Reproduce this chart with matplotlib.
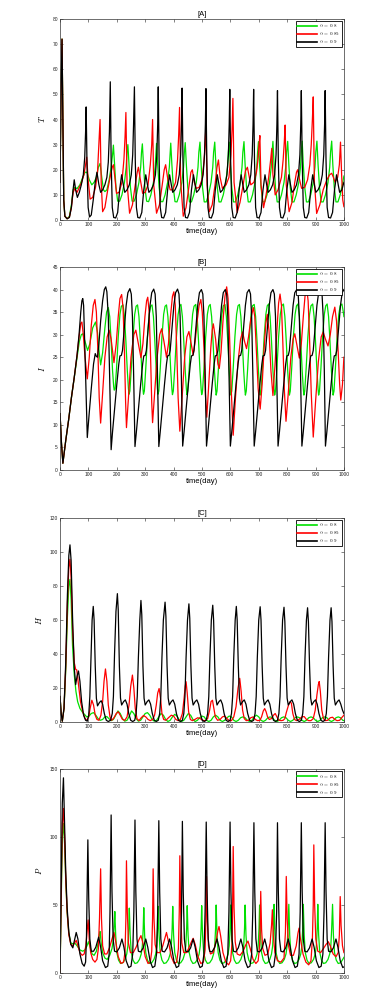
import matplotlib.pyplot as plt

plt.rcParams['font.family'] = ['Liberation Sans', 'DejaVu Sans']
plt.rcParams['mathtext.fontset'] = 'cm'

alphas = ["0.8", "0.85", "0.9"]
colors = ["#00e000", "#ff0000", "#000000"]
xticks = [0, 100, 200, 300, 400, 500, 600, 700, 800, 900, 1000]

# ---------------- [A]  T ----------------
A_green = [
    (0, 15), (4, 55), (7, 72), (10, 40), (13, 8), (17, 1.5), (25, 0.5), (33, 1.5), (40, 6), (46, 12), (52, 13),
    (60, 12.5), (70, 14), (80, 17), (88, 19), (95, 19), (103, 16), (112, 14), (120, 15), (128, 17), (135, 21),
    (141, 22.5), (147, 17), (153, 12), (158, 11.3), (165, 12), (173, 16), (180, 21), (185, 26), (188, 29.8),
    (192, 22), (197, 13), (203, 7.5), (210, 7.5), (218, 10), (227, 15), (233, 21), (236, 27), (239, 30),
    (243, 22), (248, 13), (254, 7.5), (261, 7.5), (269, 10), (278, 15), (284, 21), (287, 27), (290, 30.3),
    (294, 22), (299, 13), (305, 7.5), (312, 7.3), (320, 10), (329, 15), (335, 21), (338, 27), (340, 30.5),
    (344, 22), (349, 13), (355, 7.3), (362, 7.3), (370, 10), (379, 15), (385, 21), (388, 27), (390, 30.6),
    (394, 22), (399, 13), (405, 7.3), (412, 7.2), (420, 10), (429, 15), (435, 21), (438, 27), (441, 30.8),
    (445, 22), (450, 13), (456, 7.2), (463, 7.2), (471, 10), (480, 15), (486, 21), (489, 27), (493, 31),
    (497, 22), (502, 13), (508, 7.2), (515, 7.2), (523, 10), (532, 15), (538, 21), (541, 27), (545, 31),
    (549, 22), (554, 13), (560, 7.2), (567, 7.2), (575, 10), (584, 15), (590, 21), (593, 27), (596, 31),
    (600, 22), (605, 13), (611, 7.2), (618, 7.2), (626, 10), (635, 15), (641, 21), (644, 27), (648, 31.2),
    (652, 22), (657, 13), (663, 7.2), (670, 7.2), (678, 10), (687, 15), (693, 21), (696, 27), (699, 31.2),
    (703, 22), (708, 13), (714, 7.2), (721, 7.2), (729, 10), (738, 15), (744, 21), (747, 27), (750, 31.3),
    (754, 22), (759, 13), (765, 7.2), (772, 7.2), (780, 10), (789, 15), (795, 21), (798, 27), (802, 31.3),
    (806, 22), (811, 13), (817, 7.2), (824, 7.2), (832, 10), (841, 15), (847, 21), (850, 27), (853, 31.4),
    (857, 22), (862, 13), (868, 7.2), (875, 7.2), (883, 10), (892, 15), (898, 21), (901, 27), (905, 31.4),
    (909, 22), (914, 13), (920, 7.2), (927, 7.2), (935, 10), (944, 15), (950, 21), (953, 27), (957, 31.4),
    (961, 22), (966, 13), (972, 7.2), (979, 7.2), (987, 10), (996, 15), (1000, 17.5),
]
A_red = [
    (0, 15), (4, 55), (7, 72), (10, 40), (13, 8), (17, 1.5), (25, 0.5), (33, 1.2), (40, 5), (46, 11), (52, 12.5),
    (60, 11), (68, 13), (76, 15), (84, 18), (90, 22), (94, 25), (99, 16), (106, 8.3), (115, 9), (125, 13),
    (132, 19), (136, 28), (141, 40), (145, 15), (150, 3.3), (158, 5), (168, 12), (178, 18), (184, 21), (188, 22),
    (193, 17), (199, 10.6), (208, 11), (218, 15), (225, 24), (229, 33), (232, 42.8), (236, 15), (245, 2.7),
    (255, 6), (265, 14), (272, 19), (276, 21), (283, 16), (291, 10.6), (300, 11), (310, 14), (318, 22), (323, 30),
    (326, 40), (330, 14), (340, 2.7), (350, 6), (360, 14), (367, 20), (372, 22), (380, 16), (388, 12), (397, 12),
    (407, 15), (414, 24), (418, 34), (421, 44.8), (425, 15), (434, 1.5), (444, 5), (455, 14), (461, 19), (466, 20),
    (473, 15), (480, 12.6), (490, 13), (500, 16), (507, 23), (511, 30), (514, 37.8), (518, 14), (526, 3.3),
    (536, 6), (546, 14), (553, 21), (558, 23.9), (564, 17), (572, 12.6), (585, 14), (595, 17), (602, 26),
    (606, 36), (609, 48.4), (613, 15), (624, 3), (634, 7), (645, 14), (653, 19.5), (660, 21), (667, 17), (672, 14),
    (683, 15), (692, 19), (698, 25), (701, 30), (704, 33.6), (708, 14), (717, 4.9), (726, 10), (735, 17), (741, 23),
    (746, 28.5), (750, 18), (758, 10), (768, 12), (780, 17), (786, 24), (790, 31), (793, 37.8), (797, 14),
    (807, 3.3), (817, 7), (827, 15), (833, 19), (837, 20), (844, 16), (851, 12.6), (862, 13), (872, 16), (880, 22),
    (885, 30), (889, 40), (892, 49), (896, 15), (904, 2.6), (915, 6), (927, 12), (940, 16), (950, 18), (957, 18.6),
    (963, 17), (969, 15), (978, 17), (984, 22), (988, 31), (992, 18), (996, 8), (1000, 5.3),
]
A_black = [
    (0, 15), (4, 55), (7, 72), (10, 40), (13, 8), (17, 1.5), (25, 0.5), (33, 1), (40, 5), (46, 12),
    (50, 16), (55, 12), (61, 9), (68, 11), (75, 14), (82, 18), (87, 25), (90, 35), (92, 45), (95, 22),
    (99, 5), (104, 1.2), (110, 2), (117, 8), (124, 15), (130, 19), (137, 14), (143, 11), (150, 12), (158, 14),
    (165, 17), (170, 23), (174, 35), (177, 55),
    (180, 24), (184, 5), (189, 1), (196, 0.8), (203, 3), (210, 12), (217, 18), (223, 14), (228, 11), (236, 12),
    (244, 14), (251, 18), (256, 26), (259, 38), (262, 53),
    (265, 24), (269, 5), (274, 1), (281, 0.8), (288, 3), (295, 12), (302, 18), (308, 14), (313, 11), (321, 12),
    (329, 14), (336, 18), (341, 26), (344, 38), (346, 53),
    (349, 24), (353, 5), (358, 1), (365, 0.8), (372, 3), (379, 12), (386, 18), (392, 14), (397, 11), (405, 12),
    (413, 14), (420, 18), (425, 26), (428, 38), (430, 52.5),
    (433, 24), (437, 5), (442, 1), (449, 0.8), (456, 3), (463, 12), (470, 18), (476, 14), (481, 11), (489, 12),
    (497, 14), (504, 18), (509, 26), (512, 38), (514, 52.3),
    (517, 24), (521, 5), (526, 1), (533, 0.8), (540, 3), (547, 12), (554, 18), (560, 14), (565, 11), (573, 12),
    (581, 14), (588, 18), (593, 26), (596, 38), (598, 52),
    (601, 24), (605, 5), (610, 1), (617, 0.8), (624, 3), (631, 12), (638, 18), (644, 14), (649, 11), (657, 12),
    (665, 14), (672, 18), (677, 26), (680, 38), (682, 52),
    (685, 24), (689, 5), (694, 1), (701, 0.8), (708, 3), (715, 12), (722, 18), (728, 14), (733, 11), (741, 12),
    (749, 14), (756, 18), (761, 26), (764, 38), (766, 51.5),
    (769, 24), (773, 5), (778, 1), (785, 0.8), (792, 3), (799, 12), (806, 18), (812, 14), (817, 11), (825, 12),
    (833, 14), (840, 18), (845, 26), (848, 38), (850, 51.5),
    (853, 24), (857, 5), (862, 1), (869, 0.8), (876, 3), (883, 12), (890, 18), (896, 14), (901, 11), (909, 12),
    (917, 14), (924, 18), (929, 26), (932, 38), (934, 51.5),
    (937, 24), (941, 5), (946, 1), (953, 0.8), (960, 3), (967, 12), (974, 18), (980, 14), (985, 11), (993, 12),
    (1000, 15),
]

# ---------------- [B]  I ----------------
B_green = [
    (0, 12.5), (5, 6), (10, 1.5), (20, 6.5), (30, 11), (40, 16), (50, 20.5), (60, 25), (68, 28.5), (75, 30),
    (80, 30.2), (88, 28.5), (97, 26.5), (105, 28), (115, 31.5), (125, 32.8), (132, 30.5), (138, 26), (143, 23.3),
    (150, 26), (158, 31.5), (164, 35), (170, 36),
    (175, 34), (180, 28.5), (185, 22), (189, 18.5), (191, 17.7), (194, 18), (199, 22.5), (205, 29.5), (211, 34.5), (216, 36.3), (222, 36.6),
    (227, 34), (232, 28.5), (237, 22), (241, 18), (243, 16.8), (246, 17.5), (251, 22.5), (257, 29.5), (263, 34.5), (268, 36.3), (273, 36.6),
    (278, 34), (283, 28.5), (288, 22), (292, 18), (294, 16.8), (297, 17.5), (302, 22.5), (308, 29.5), (314, 34.5), (319, 36.3), (324, 36.6),
    (329, 34), (334, 28.5), (339, 22), (343, 18), (345, 16.8), (348, 17.5), (353, 22.5), (359, 29.5), (365, 34.5), (370, 36.3), (375, 36.6),
    (380, 34), (385, 28.5), (390, 22), (394, 18), (396, 16.7), (399, 17.5), (404, 22.5), (410, 29.5), (416, 34.5), (421, 36.3), (426, 36.7),
    (431, 34), (436, 28.5), (441, 22), (445, 18), (447, 16.7), (450, 17.5), (455, 22.5), (461, 29.5), (467, 34.5), (472, 36.3), (478, 36.7),
    (483, 34), (488, 28.5), (493, 22), (497, 18), (499, 16.7), (502, 17.5), (507, 22.5), (513, 29.5), (519, 34.5), (524, 36.3), (529, 36.7),
    (534, 34), (539, 28.5), (544, 22), (548, 18), (550, 16.6), (553, 17.5), (558, 22.5), (564, 29.5), (570, 34.5), (575, 36.4), (581, 36.7),
    (586, 34), (591, 28.5), (596, 22), (600, 18), (602, 16.6), (605, 17.5), (610, 22.5), (616, 29.5), (622, 34.5), (627, 36.4), (632, 36.7),
    (637, 34), (642, 28.5), (647, 22), (651, 18), (653, 16.6), (656, 17.5), (661, 22.5), (667, 29.5), (673, 34.5), (678, 36.4), (684, 36.7),
    (689, 34), (694, 28.5), (699, 22), (703, 18), (705, 16.6), (708, 17.5), (713, 22.5), (719, 29.5), (725, 34.5), (730, 36.4), (735, 36.8),
    (740, 34), (745, 28.5), (750, 22), (754, 18), (756, 16.6), (759, 17.5), (764, 22.5), (770, 29.5), (776, 34.5), (781, 36.4), (787, 36.8),
    (792, 34), (797, 28.5), (802, 22), (806, 18), (808, 16.6), (811, 17.5), (816, 22.5), (822, 29.5), (828, 34.5), (833, 36.4), (838, 36.8),
    (843, 34), (848, 28.5), (853, 22), (857, 18), (859, 16.6), (862, 17.5), (867, 22.5), (873, 29.5), (879, 34.5), (884, 36.4), (890, 36.8),
    (895, 34), (900, 28.5), (905, 22), (909, 18), (911, 16.6), (914, 17.5), (919, 22.5), (925, 29.5), (931, 34.5), (936, 36.4), (941, 36.8),
    (946, 34), (951, 28.5), (956, 22), (960, 18), (962, 16.6), (965, 17.5), (970, 22.5), (976, 29.5), (982, 34.5), (987, 36.4), (993, 36.8),
    (998, 35), (1000, 34),
]
B_red = [
    (0, 12.5), (5, 6), (10, 1.5), (20, 6.5), (30, 11), (40, 16), (50, 20.5), (60, 25.5), (67, 29.5), (73, 32.5),
    (77, 32.8), (82, 30), (88, 25), (96, 20.2), (103, 25), (110, 32), (117, 36.5), (123, 37.8), (128, 35), (133, 27),
    (138, 16), (143, 10.4), (150, 17), (158, 25), (166, 29.5), (173, 31), (180, 29), (190, 23.8), (198, 28), (205, 34),
    (211, 38), (217, 38.9), (222, 36), (227, 26), (231, 15), (234, 9.4), (241, 16), (250, 25), (260, 30), (267, 31),
    (276, 28), (285, 24.9), (292, 28), (299, 34), (305, 37.5), (309, 38.3), (314, 35), (319, 25), (323, 15), (326, 10.5),
    (333, 17), (342, 25), (351, 30), (358, 31.3), (366, 28.5), (375, 25), (382, 28), (389, 34), (396, 38.5), (401, 39.5),
    (406, 36.5), (411, 27), (416, 16), (422, 8.6), (430, 16), (439, 25), (447, 29.5), (454, 30.7), (462, 28), (469, 25.5),
    (476, 28.5), (483, 33), (490, 36.5), (496, 37.8), (501, 35), (507, 27), (512, 17), (517, 11.7), (523, 18), (531, 27),
    (536, 31), (540, 32.4), (548, 29), (556, 23.5), (561, 22.5), (567, 26), (574, 33), (581, 38.5), (587, 40.6),
    (592, 38), (597, 30), (603, 18), (610, 7.7), (618, 16), (627, 24), (636, 29), (643, 30.6), (650, 28.5), (657, 26.9),
    (664, 29.5), (672, 33.5), (681, 36), (686, 34), (692, 26), (698, 18), (705, 13.5), (712, 19), (719, 27), (725, 32.5),
    (730, 34.5), (736, 31), (743, 22), (750, 16.5), (757, 23), (764, 31), (770, 37), (775, 39), (780, 36.5), (785, 28),
    (790, 18), (796, 10.8), (804, 17), (813, 25), (821, 29), (827, 30.2), (835, 27.5), (843, 24.8), (850, 28), (857, 34),
    (863, 38.5), (869, 40.2), (874, 37.5), (879, 29), (885, 17), (892, 7.3), (900, 15), (910, 24), (920, 29.5),
    (927, 30.6), (935, 29), (944, 27.5), (952, 30), (960, 34), (968, 36.1), (974, 33), (980, 26), (985, 19),
    (989, 15.5), (995, 19), (1000, 25),
]
B_black = [
    (0, 12.5), (5, 6), (10, 1.5), (20, 6.5), (30, 11), (40, 16), (50, 20.5), (60, 25.5), (67, 30), (73, 35),
    (77, 37.5), (80, 38), (83, 36.5), (87, 28), (92, 16), (96, 7.2), (102, 12), (110, 18), (118, 23.5), (124, 25.8),
    (128, 25.2), (132, 25), (137, 28), (143, 33), (150, 37.5), (156, 40), (161, 40.6), (165, 39.5), (170, 34),
    (175, 20), (180, 4.5),
    (185, 8.5), (192, 13.5), (200, 19), (207, 23.5), (211, 25.3), (216, 25.4), (220, 26.5), (226, 31), (233, 36.5), (239, 39.3), (246, 40.2), (251, 39), (255, 34), (259, 22), (264, 5.2),
    (269, 8.5), (276, 13.5), (284, 19), (291, 23.5), (295, 25.3), (300, 25.4), (304, 26.5), (310, 31), (317, 36.5), (323, 39.3), (330, 40.1), (335, 39), (339, 34), (343, 22), (348, 5.2),
    (353, 8.5), (360, 13.5), (368, 19), (375, 23.5), (379, 25.3), (384, 25.4), (388, 26.5), (394, 31), (401, 36.5), (407, 39.3), (414, 40.1), (419, 39), (423, 34), (427, 22), (432, 5.3),
    (437, 8.5), (444, 13.5), (452, 19), (459, 23.5), (463, 25.3), (468, 25.4), (472, 26.5), (478, 31), (485, 36.5), (491, 39.3), (498, 40), (503, 39), (507, 34), (511, 22), (516, 5.3),
    (521, 8.5), (528, 13.5), (536, 19), (543, 23.5), (547, 25.3), (552, 25.4), (556, 26.5), (562, 31), (569, 36.5), (575, 39.3), (582, 40), (587, 39), (591, 34), (595, 22), (600, 5.3),
    (605, 8.5), (612, 13.5), (620, 19), (627, 23.5), (631, 25.3), (636, 25.4), (640, 26.5), (646, 31), (653, 36.5), (659, 39.3), (666, 40), (671, 39), (675, 34), (679, 22), (684, 5.3),
    (689, 8.5), (696, 13.5), (704, 19), (711, 23.5), (715, 25.3), (720, 25.4), (724, 26.5), (730, 31), (737, 36.5), (743, 39.3), (750, 40), (755, 39), (759, 34), (763, 22), (768, 5.3),
    (773, 8.5), (780, 13.5), (788, 19), (795, 23.5), (799, 25.3), (804, 25.4), (808, 26.5), (814, 31), (821, 36.5), (827, 39.3), (834, 40), (839, 39), (843, 34), (847, 22), (852, 5.3),
    (857, 8.5), (864, 13.5), (872, 19), (879, 23.5), (883, 25.3), (888, 25.4), (892, 26.5), (898, 31), (905, 36.5), (911, 39.3), (918, 40), (923, 39), (927, 34), (931, 22), (935, 5.3),
    (940, 8.5), (947, 13.5), (955, 19), (962, 23.5), (966, 25.3), (971, 25.4), (975, 26.5), (981, 31), (988, 36.5), (994, 39.3), (1000, 40),
]

# ---------------- [C]  H ----------------
C_green = [
    (0, 15), (4, 5), (8, 0.5), (14, 8), (20, 30), (26, 62), (31, 80), (35, 83.9), (39, 72), (44, 45), (50, 28),
    (56, 18), (62, 12), (70, 8), (78, 6), (86, 4.5), (94, 3), (102, 3.5), (110, 5), (118, 5.5), (126, 4), (134, 2),
    (142, 1), (150, 1.5), (158, 3), (165, 3.2), (172, 2), (180, 0.8), (188, 1.5), (196, 4), (204, 6.5), (212, 5),
    (220, 2), (228, 0.5), (236, 1), (244, 3.5), (252, 6.5), (260, 5), (268, 2), (276, 0.5), (284, 1), (292, 3),
    (300, 5), (308, 5.5), (316, 4), (324, 1.5), (332, 0.5), (340, 1), (348, 3), (356, 5), (364, 4), (372, 1.5),
    (380, 0.3), (388, 1), (396, 3), (404, 4.5), (412, 3.5), (420, 1.2), (428, 0.3), (436, 1), (444, 3), (452, 5),
    (460, 4), (468, 1.5), (476, 0.3), (484, 1), (492, 2.5), (500, 3.5), (508, 3), (516, 1), (524, 0.3), (532, 1),
    (540, 3), (548, 4), (556, 3), (564, 1), (572, 0.3), (580, 1), (588, 2.5), (596, 3.5), (604, 3), (612, 1),
    (620, 0.3), (628, 1), (636, 2.5), (644, 3), (652, 2.5), (660, 1), (668, 0.3), (676, 1), (684, 3), (692, 4),
    (700, 3), (708, 1), (716, 0.3), (724, 1), (732, 2.5), (740, 3), (748, 2.5), (756, 1), (764, 0.3), (772, 1),
    (780, 2.5), (788, 3), (796, 2.5), (804, 1), (812, 0.3), (820, 1), (828, 2.5), (836, 3), (844, 2.5), (852, 1),
    (860, 0.3), (868, 1), (876, 2.5), (884, 3), (892, 2.5), (900, 1), (908, 0.3), (916, 1), (924, 2.5), (932, 3),
    (940, 2.5), (948, 1), (956, 0.3), (964, 1), (972, 2.5), (980, 3), (988, 2.5), (996, 1), (1000, 0.8),
]
C_red = [
    (0, 15), (4, 5), (8, 0.5), (14, 8), (20, 32), (26, 70), (31, 91), (35, 95.7), (39, 85), (44, 55), (50, 35),
    (55, 31), (59, 30.6), (65, 22), (72, 12), (80, 6), (88, 2), (95, 1), (101, 3), (106, 8), (112, 12.8), (118, 10),
    (124, 4), (130, 1.5), (137, 1), (144, 4), (150, 12), (155, 24), (160, 31.2), (165, 24), (170, 10), (176, 3),
    (182, 1), (190, 2.5), (198, 5), (205, 6), (212, 4), (220, 1.5), (228, 1), (236, 3), (243, 10), (249, 21),
    (255, 27.6), (260, 20), (265, 8), (271, 2), (278, 0.8), (286, 2.5), (294, 3.8), (302, 3), (310, 1.5), (318, 0.8),
    (326, 1.5), (333, 4), (339, 10), (344, 17), (349, 19.7), (354, 14), (359, 5), (365, 1.5), (373, 1), (382, 2.5),
    (392, 4), (400, 3.5), (408, 1.5), (416, 0.8), (424, 1.5), (431, 5), (437, 14), (441, 21), (444, 23.7), (448, 17),
    (453, 6), (459, 1.5), (466, 0.8), (475, 1.5), (485, 2.5), (494, 2), (503, 1), (512, 0.8), (520, 2), (527, 7),
    (532, 12), (537, 12.8), (542, 8), (547, 3), (555, 1), (564, 1.5), (572, 3), (580, 3.5), (588, 2), (596, 0.8),
    (604, 0.8), (612, 3), (620, 9), (627, 20), (633, 25.7), (638, 18), (643, 7), (649, 2), (656, 0.8), (664, 1),
    (672, 2.5), (680, 3), (688, 1.5), (696, 0.8), (704, 1), (710, 3), (716, 6.5), (721, 7.9), (726, 6), (731, 3),
    (737, 1.5), (745, 2), (752, 4), (758, 5), (764, 3), (771, 1), (779, 0.8), (786, 1), (792, 2), (797, 5.5),
    (805, 10), (811, 12), (815, 11), (820, 5), (826, 1.5), (833, 0.8), (842, 1.5), (852, 3), (860, 3.2), (868, 1.5),
    (876, 0.8), (884, 0.8), (892, 2), (899, 7), (905, 16), (910, 22), (913, 23.8), (917, 18), (922, 7), (928, 2),
    (935, 0.8), (943, 1), (952, 2.5), (960, 2.8), (968, 1.5), (976, 0.8), (985, 1), (992, 2.5), (1000, 4),
]
C_black = [
    (0, 15), (4, 5), (8, 0.5), (14, 8), (20, 35), (26, 75), (31, 98), (35, 104.2), (39, 95), (44, 62), (50, 32),
    (55, 22), (60, 27), (65, 30), (70, 24), (76, 12), (83, 4), (90, 1), (96, 0.5), (101, 4), (105, 15), (109, 38),
    (113, 60), (117, 68), (120, 60), (124, 33), (128, 14), (132, 9.5), (139, 11.5), (145, 12.5), (150, 10.5),
    (156, 5), (163, 1), (170, 0.3), (178, 1), (184, 5), (188, 15), (192, 40), (197, 65), (202, 75.5),
    (205, 66), (209, 33), (213, 14), (217, 10), (224, 12), (230, 13), (236, 10.5), (242, 5), (249, 1), (256, 0.3), (263, 1), (268, 5), (272, 15), (276, 38), (281, 60), (285, 71.5),
    (288, 63), (292, 33), (296, 14), (300, 10), (307, 12), (313, 13), (319, 10.5), (325, 5), (332, 1), (339, 0.3), (346, 1), (351, 5), (355, 15), (359, 38), (364, 60), (370, 70.5),
    (373, 62), (377, 33), (381, 14), (385, 10), (392, 12), (398, 13), (404, 10.5), (410, 5), (417, 1), (424, 0.3), (431, 1), (436, 5), (440, 15), (444, 38), (449, 60), (454, 69.5),
    (457, 61), (461, 33), (465, 14), (469, 10), (476, 12), (482, 13), (488, 10.5), (494, 5), (501, 1), (508, 0.3), (515, 1), (520, 5), (524, 15), (528, 38), (533, 60), (538, 68.7),
    (541, 60), (545, 33), (549, 14), (553, 10), (560, 12), (566, 13), (572, 10.5), (578, 5), (585, 1), (592, 0.3), (599, 1), (604, 5), (608, 15), (612, 38), (617, 60), (621, 68),
    (624, 60), (628, 33), (632, 14), (636, 10), (643, 12), (649, 13), (655, 10.5), (661, 5), (668, 1), (675, 0.3), (682, 1), (687, 5), (691, 15), (695, 38), (700, 60), (705, 67.8),
    (708, 60), (712, 33), (716, 14), (720, 10), (727, 12), (733, 13), (739, 10.5), (745, 5), (752, 1), (759, 0.3), (766, 1), (771, 5), (775, 15), (779, 38), (784, 60), (789, 67.5),
    (792, 59), (796, 33), (800, 14), (804, 10), (811, 12), (817, 13), (823, 10.5), (829, 5), (836, 1), (843, 0.3), (850, 1), (855, 5), (859, 15), (863, 38), (868, 60), (872, 67.2),
    (875, 59), (879, 33), (883, 14), (887, 10), (894, 12), (900, 13), (906, 10.5), (912, 5), (919, 1), (926, 0.3), (933, 1), (938, 5), (942, 15), (946, 38), (951, 60), (955, 67.2),
    (958, 59), (962, 33), (966, 14), (970, 10), (977, 12), (983, 13), (989, 10.5), (995, 7), (1000, 5),
]

# ---------------- [D]  P ----------------
D_green = [
    (0, 0), (4, 50), (8, 100), (12, 110), (16, 95), (20, 68), (25, 44), (31, 29), (38, 22), (45, 21.5), (52, 22),
    (60, 20), (70, 17), (80, 16), (88, 17), (95, 20), (100, 23), (106, 19), (113, 14), (120, 13), (128, 16),
    (134, 22), (138, 28), (141, 30.5), (145, 22), (150, 15), (158, 11), (166, 10), (175, 13), (183, 18), (188, 25),
    (191, 36), (193, 45.2),
    (196, 28), (200, 15), (206, 9.5), (213, 7), (221, 7.5), (229, 10), (235, 14), (239, 20), (242, 33), (244, 47.7),
    (247, 28), (251, 15), (257, 9.5), (264, 7), (272, 7.5), (280, 10), (286, 14), (290, 20), (293, 33), (295, 48),
    (298, 28), (302, 15), (308, 9.5), (315, 7), (323, 7.5), (331, 10), (337, 14), (341, 20), (344, 33), (346, 49),
    (349, 28), (353, 15), (359, 9.5), (366, 7), (374, 7.5), (382, 10), (388, 14), (392, 20), (395, 33), (397, 49),
    (400, 28), (404, 15), (410, 9.5), (417, 7), (425, 7.5), (433, 10), (439, 14), (443, 20), (446, 33), (448, 49.5),
    (451, 28), (455, 15), (461, 9.5), (468, 7), (476, 7.5), (484, 10), (490, 14), (494, 20), (497, 33), (499, 49.5),
    (502, 28), (506, 15), (512, 9.5), (519, 7), (527, 7.5), (535, 10), (541, 14), (545, 20), (548, 33), (550, 50),
    (553, 28), (557, 15), (563, 9.5), (570, 7), (578, 7.5), (586, 10), (592, 14), (596, 20), (599, 33), (601, 50),
    (604, 28), (608, 15), (614, 9.5), (621, 7), (629, 7.5), (637, 10), (643, 14), (647, 20), (650, 33), (652, 50),
    (655, 28), (659, 15), (665, 9.5), (672, 7), (680, 7.5), (688, 10), (694, 14), (698, 20), (701, 33), (703, 50),
    (706, 28), (710, 15), (716, 9.5), (723, 7), (731, 7.5), (739, 10), (745, 14), (749, 20), (752, 33), (754, 50.5),
    (757, 28), (761, 15), (767, 9.5), (774, 7), (782, 7.5), (790, 10), (796, 14), (800, 20), (803, 33), (806, 50.5),
    (809, 28), (813, 15), (819, 9.5), (826, 7), (834, 7.5), (842, 10), (848, 14), (852, 20), (855, 33), (857, 50.5),
    (860, 28), (864, 15), (870, 9.5), (877, 7), (885, 7.5), (893, 10), (899, 14), (903, 20), (906, 33), (908, 50.5),
    (911, 28), (915, 15), (921, 9.5), (928, 7), (936, 7.5), (944, 10), (950, 14), (954, 20), (957, 33), (960, 50.5),
    (963, 28), (967, 15), (973, 9.5), (980, 7), (988, 7.5), (996, 10), (1000, 11.5),
]
D_red = [
    (0, 0), (4, 55), (8, 110), (12, 121), (16, 100), (20, 70), (25, 45), (31, 28), (38, 21), (45, 20), (51, 22),
    (57, 24), (63, 20), (70, 15), (78, 13), (85, 14), (91, 20), (95, 30), (99, 39), (103, 24), (108, 15), (115, 10),
    (123, 8), (130, 10), (135, 18), (139, 40), (143, 76.6), (146, 40), (150, 20), (157, 14), (165, 14), (175, 19),
    (183, 25), (190, 29.8), (197, 22), (205, 12), (215, 7), (224, 8), (229, 16), (232, 40), (234, 82.5), (237, 45),
    (241, 22), (248, 15), (258, 15), (268, 19), (277, 24), (285, 27.5), (292, 22), (300, 12), (310, 7), (318, 8),
    (323, 16), (326, 40), (328, 76.6), (331, 40), (335, 21), (342, 15), (352, 15), (362, 20), (370, 26), (375, 29.8),
    (382, 23), (392, 12), (402, 7), (411, 8), (417, 18), (420, 45), (422, 86.2), (425, 45), (429, 22), (436, 15),
    (446, 15), (455, 19), (463, 23), (469, 25.5), (476, 21), (486, 12), (496, 7), (505, 8), (511, 17), (514, 40),
    (516, 71), (519, 38), (523, 20), (530, 14), (540, 15), (550, 24), (556, 31), (560, 34.2), (566, 27), (574, 15),
    (584, 8), (594, 6), (601, 9), (606, 22), (608, 50), (610, 93), (613, 48), (617, 23), (624, 14), (634, 13),
    (645, 16), (655, 21), (662, 23.5), (670, 18), (680, 10), (690, 7), (698, 9), (703, 20), (705, 35), (707, 60),
    (710, 32), (714, 18), (722, 13), (732, 14), (740, 22), (745, 35), (748, 46.5), (751, 28), (757, 15), (766, 9),
    (778, 8), (789, 11), (794, 30), (797, 71), (800, 40), (805, 20), (812, 13), (822, 13), (832, 20), (838, 29),
    (842, 33), (847, 25), (856, 14), (866, 8), (876, 6), (884, 9), (889, 25), (892, 50), (894, 94.2), (897, 50),
    (901, 25), (908, 16), (918, 15), (928, 18), (937, 21), (945, 23), (952, 20), (962, 14), (972, 12), (980, 15),
    (984, 28), (987, 56.2), (990, 35), (995, 20), (1000, 15),
]
D_black = [
    (0, 0), (4, 60), (8, 125), (12, 143.5), (16, 110), (20, 75), (25, 48), (31, 30), (38, 21), (45, 18.5), (51, 24),
    (57, 29.8), (63, 25), (70, 14), (78, 7), (85, 5), (90, 8), (93, 25), (96, 70), (98, 97.9), (101, 55), (105, 25),
    (110, 16), (118, 16), (126, 19), (136, 26.4), (143, 19), (150, 9), (160, 4), (168, 5), (173, 14), (176, 45),
    (180, 116.2),
    (183, 60), (187, 25), (192, 16), (200, 15.5), (209, 18.5), (218, 25), (225, 19), (233, 9), (242, 4), (250, 5), (256, 14), (260, 45), (264, 112.5),
    (267, 60), (271, 25), (276, 16), (284, 15.5), (293, 18.5), (302, 25), (309, 19), (317, 9), (326, 4), (334, 5), (340, 14), (344, 45), (348, 112),
    (351, 60), (355, 25), (360, 16), (368, 15.5), (377, 18.5), (386, 25), (393, 19), (401, 9), (410, 4), (418, 5), (424, 14), (428, 45), (431, 111.5),
    (434, 60), (438, 25), (443, 16), (451, 15.5), (460, 18.5), (469, 25), (476, 19), (484, 9), (493, 4), (501, 5), (507, 14), (511, 45), (515, 111),
    (518, 60), (522, 25), (527, 16), (535, 15.5), (544, 18.5), (553, 25), (560, 19), (568, 9), (577, 4), (585, 5), (591, 14), (595, 45), (599, 111),
    (602, 60), (606, 25), (611, 16), (619, 15.5), (628, 18.5), (637, 25), (644, 19), (652, 9), (661, 4), (669, 5), (675, 14), (679, 45), (683, 110.5),
    (686, 60), (690, 25), (695, 16), (703, 15.5), (712, 18.5), (721, 25), (728, 19), (736, 9), (745, 4), (753, 5), (759, 14), (763, 45), (766, 110.5),
    (769, 60), (773, 25), (778, 16), (786, 15.5), (795, 18.5), (804, 25), (811, 19), (819, 9), (828, 4), (836, 5), (842, 14), (846, 45), (850, 110.5),
    (853, 60), (857, 25), (862, 16), (870, 15.5), (879, 18.5), (888, 25), (895, 19), (903, 9), (912, 4), (920, 5), (926, 14), (930, 45), (934, 110.5),
    (937, 60), (941, 25), (946, 16), (954, 15.5), (963, 18.5), (972, 25), (979, 19), (987, 9), (996, 4), (1000, 4.5),
]

panels = [
    ("[A]", "$T$", 80, [0, 10, 20, 30, 40, 50, 60, 70, 80], [A_green, A_red, A_black]),
    ("[B]", "$I$", 45, [0, 5, 10, 15, 20, 25, 30, 35, 40, 45], [B_green, B_red, B_black]),
    ("[C]", "$H$", 120, [0, 20, 40, 60, 80, 100, 120], [C_green, C_red, C_black]),
    ("[D]", "$P$", 150, [0, 50, 100, 150], [D_green, D_red, D_black]),
]
boxes = [
    [0.158, 0.780, 0.747, 0.201],
    [0.158, 0.530, 0.747, 0.203],
    [0.158, 0.278, 0.747, 0.204],
    [0.158, 0.027, 0.747, 0.204],
]

fig = plt.figure(figsize=(3.8, 10), dpi=100)

for box, (title, ylab, ymax, yticks, series) in zip(boxes, panels):
    ax = fig.add_axes(box)
    for data, col, a in zip(series, colors, alphas):
        t = [p[0] for p in data]
        v = [p[1] for p in data]
        ax.plot(t, v, color=col, lw=0.9, label=r"$\alpha\,=\,%s$" % a)
    ax.set_xlim(0, 1000)
    ax.set_ylim(0, ymax)
    ax.set_xticks(xticks)
    ax.set_yticks(yticks)
    ax.tick_params(direction="in", length=2, width=0.4, labelsize=3.5, pad=1.5,
                   top=True, right=True, colors="#222222")
    for s in ax.spines.values():
        s.set_linewidth(0.5)
        s.set_color("#333333")
    ax.set_title(title, fontsize=5.5, pad=2)
    ax.set_xlabel("time(day)", fontsize=5.5, labelpad=0.5)
    ax.set_ylabel(ylab, fontsize=6, labelpad=4)
    leg = ax.legend(loc="upper right", fontsize=3.6, handlelength=4, handletextpad=0.4,
                    borderpad=0.35, labelspacing=0.2, borderaxespad=0.35,
                    fancybox=False, framealpha=1, edgecolor="black")
    leg.get_frame().set_linewidth(0.6)
    for line in leg.get_lines():
        line.set_linewidth(1.2)

fig.savefig("out.png", dpi=100)
